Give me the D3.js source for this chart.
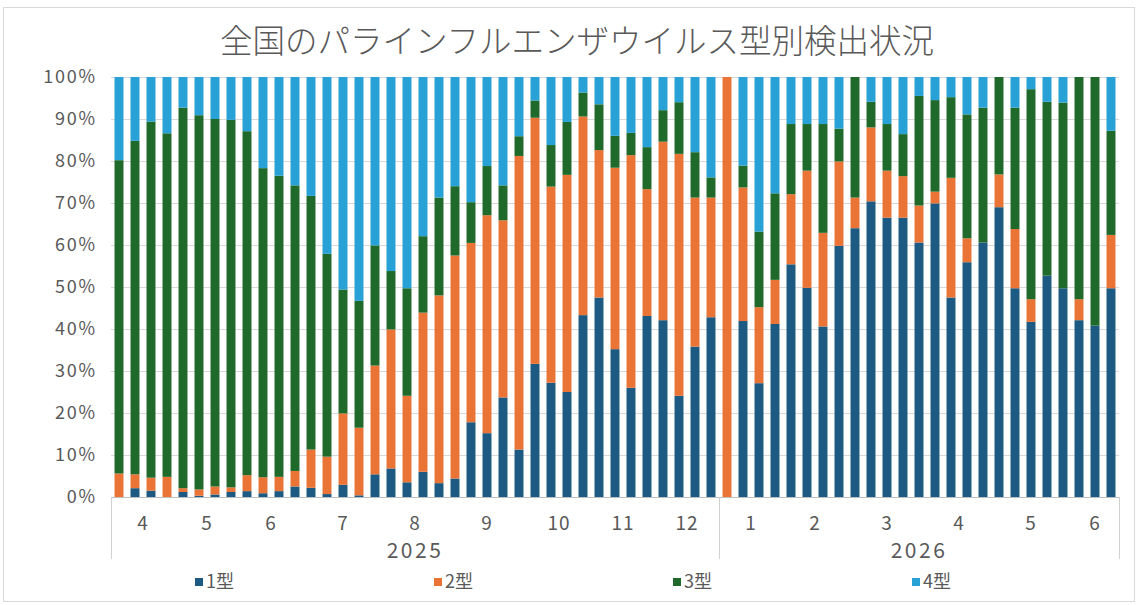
<!DOCTYPE html>
<html><head><meta charset="utf-8">
<script src="https://cdn.jsdelivr.net/npm/d3@7"></script>
<style>
body{margin:0;background:#fff}
svg{display:block}
text{font-family:"Noto Sans CJK JP","Noto Sans",sans-serif;fill:#595959}
</style>
</head><body>
<svg id="chart" width="1138" height="605"></svg>
<script>
// ---- data ----
const weeks = [
 "2025-15","2025-16","2025-17","2025-18","2025-19","2025-20","2025-21","2025-22","2025-23","2025-24",
 "2025-25","2025-26","2025-27","2025-28","2025-29","2025-30","2025-31","2025-32","2025-33","2025-34",
 "2025-35","2025-36","2025-37","2025-38","2025-39","2025-40","2025-41","2025-42","2025-43","2025-44",
 "2025-45","2025-46","2025-47","2025-48","2025-49","2025-50","2025-51","2025-52",
 "2026-01","2026-02","2026-03","2026-04","2026-05","2026-06","2026-07","2026-08","2026-09","2026-10",
 "2026-11","2026-12","2026-13","2026-14","2026-15","2026-16","2026-17","2026-18","2026-19","2026-20",
 "2026-21","2026-22","2026-23","2026-24","2026-25"
];
const type1 = [0,2.1,1.5,0,1.2,0.3,0.6,1.2,1.4,0.9,1.4,2.5,2.2,0.7,2.9,0.4,5.4,6.8,3.5,6.0,3.3,4.4,17.8,15.2,23.7,11.3,31.7,27.2,25.0,43.3,47.5,35.2,26.0,43.1,42.1,24.1,35.8,42.8,
 0,41.9,27.1,41.2,55.4,49.8,40.6,59.8,64.0,70.4,66.5,66.5,60.6,69.9,47.5,55.9,60.6,69.0,49.7,41.7,52.7,49.7,42.1,40.8,49.7];
const type2 = [5.6,3.3,3.1,4.8,0.9,1.5,1.9,1.1,3.8,3.8,3.4,3.7,9.1,8.9,17.0,16.1,25.9,33.1,20.6,37.9,44.7,53.1,42.7,51.9,42.2,69.9,58.6,46.7,51.7,47.3,35.1,43.2,55.4,30.2,42.5,57.6,35.5,28.5,
 100,31.8,18.1,10.5,16.7,27.9,22.3,20.1,7.3,17.6,11.2,9.9,8.8,2.8,28.5,5.7,0,7.8,14.1,5.4,0,0,5.0,0,12.7];
const type3 = [74.6,79.4,84.8,81.8,90.6,89.1,87.5,87.5,81.9,73.6,71.7,68.0,60.4,48.3,29.5,30.2,28.6,13.9,25.6,18.2,23.3,16.5,9.7,11.7,8.3,4.7,4.1,9.9,12.6,5.7,10.9,7.6,5.3,10.0,7.5,12.3,10.8,4.8,
 0,5.2,18.0,20.6,16.7,11.1,25.9,7.8,28.7,6.1,11.1,10.0,26.1,21.8,19.2,29.5,32.1,23.2,28.9,50.0,41.4,44.2,52.9,59.2,24.8];
const type4 = [19.8,15.2,10.6,13.4,7.3,9.1,10.0,10.2,12.9,21.7,23.5,25.8,28.3,42.1,50.6,53.3,40.1,46.2,50.3,37.9,28.7,26.0,29.8,21.2,25.8,14.1,5.6,16.2,10.7,3.7,6.5,14.0,13.3,16.7,7.9,6.0,17.9,23.9,
 0,21.1,36.8,27.7,11.2,11.2,11.2,12.3,0,5.9,11.2,13.6,4.5,5.5,4.8,8.9,7.3,0,7.3,2.9,5.9,6.1,0,0,12.8];
const seriesNames = ["1型","2型","3型","4型"];
const seriesColors = ["#1c5a84","#ea7436","#1f6a2b","#27a1d6"];
const yTicks = [0,0.1,0.2,0.3,0.4,0.5,0.6,0.7,0.8,0.9,1];
const monthLabels = ["4","5","6","7","8","9","10","11","12","1","2","3","4","5","6"];
const monthFirst = ["2025-15","2025-19","2025-23","2025-27","2025-32","2025-36","2025-41","2025-45","2025-49","2026-01","2026-05","2026-09","2026-14","2026-18","2026-23"];
const monthLast  = ["2025-18","2025-22","2025-26","2025-31","2025-35","2025-40","2025-44","2025-48","2025-52","2026-04","2026-08","2026-13","2026-17","2026-22","2026-25"];
const yearLabels = ["2025","2026"];
const yearFirst = ["2025-15","2026-01"];
const yearLast = ["2025-52","2026-25"];
const title = "全国のパラインフルエンザウイルス型別検出状況";

// ---- chart ----
const W = 1138, H = 605;
const L = 111, R = 1119, T = 77, B = 497;
const svg = d3.select("#chart");

svg.append("rect").attr("x",3.5).attr("y",7.5).attr("width",W-7).attr("height",H-11)
  .attr("fill","none").attr("stroke","#d9d9d9");

const rows = weeks.map((w,i)=>({week:w, "1型":type1[i], "2型":type2[i], "3型":type3[i], "4型":type4[i]}));

const x = d3.scaleBand().domain(weeks).range([L,R]).paddingInner(0.44).paddingOuter(0.22);
const y = d3.scaleLinear().domain([0,1]).range([B,T]);
const halfGap = x.step()*x.paddingInner()/2;
const groupLeft = w => x(w) - halfGap;
const groupRight = w => x(w) + x.bandwidth() + halfGap;

// gridlines
const yAxis = d3.axisLeft(y).tickValues(yTicks).tickFormat(d3.format(".0%")).tickSize(-(R-L)).tickPadding(14);
const gy = svg.append("g").attr("transform",`translate(${L},0)`).call(yAxis);
gy.select(".domain").remove();
gy.selectAll(".tick line").attr("stroke","#d9d9d9");
gy.selectAll(".tick text").attr("font-family","'Noto Sans',sans-serif").attr("font-size",18)
  .attr("letter-spacing","1.8px").attr("fill","#595959");

// bars
const stack = d3.stack().keys(seriesNames).offset(d3.stackOffsetExpand);
const layers = stack(rows);
svg.append("g").selectAll("g").data(layers).join("g")
  .attr("fill",(d,i)=>seriesColors[i])
  .selectAll("rect").data(d=>d).join("rect")
  .attr("x",d=>x(d.data.week)).attr("width",x.bandwidth())
  .attr("y",d=>y(d[1])).attr("height",d=>Math.max(0,y(d[0])-y(d[1])));

// baseline
svg.append("line").attr("x1",L).attr("x2",R).attr("y1",B+0.5).attr("y2",B+0.5).attr("stroke","#bfbfbf");

// year separators
const sepX = [groupLeft(yearFirst[0])].concat(yearLast.map(groupRight));
svg.append("g").selectAll("line").data(sepX).join("line")
  .attr("x1",d=>Math.round(d)+0.5).attr("x2",d=>Math.round(d)+0.5)
  .attr("y1",B).attr("y2",559).attr("stroke","#d0d0d0");

// month labels
svg.append("g").selectAll("text").data(monthLabels).join("text")
  .attr("x",(d,i)=>(groupLeft(monthFirst[i])+groupRight(monthLast[i]))/2)
  .attr("y",523).attr("dy","0.35em").attr("text-anchor","middle")
  .attr("font-family","'Noto Sans',sans-serif").attr("font-size",19).attr("letter-spacing","1px")
  .attr("fill","#404040").text(d=>d);

// year labels
svg.append("g").selectAll("text").data(yearLabels).join("text")
  .attr("x",(d,i)=>(groupLeft(yearFirst[i])+groupRight(yearLast[i]))/2)
  .attr("y",551).attr("dy","0.35em").attr("text-anchor","middle")
  .attr("font-family","'Noto Sans',sans-serif").attr("font-size",21).attr("letter-spacing","2.5px")
  .attr("fill","#666666").text(d=>d);

// title
svg.append("text").attr("x",577).attr("y",42).attr("dy","0.35em").attr("text-anchor","middle")
  .attr("font-size",32.5).attr("font-weight",300).attr("fill","#595959").text(title);

// legend
const leg = svg.append("g").selectAll("g").data(seriesNames).join("g")
  .attr("transform",(d,i)=>`translate(${199+i*239},582)`);
leg.append("rect").attr("x",-4).attr("y",-4).attr("width",8).attr("height",8).attr("fill",(d,i)=>seriesColors[i]);
leg.append("text").attr("x",7).attr("dy","0.35em").attr("font-size",18).attr("fill","#595959").text(d=>d);
</script>
</body></html>
